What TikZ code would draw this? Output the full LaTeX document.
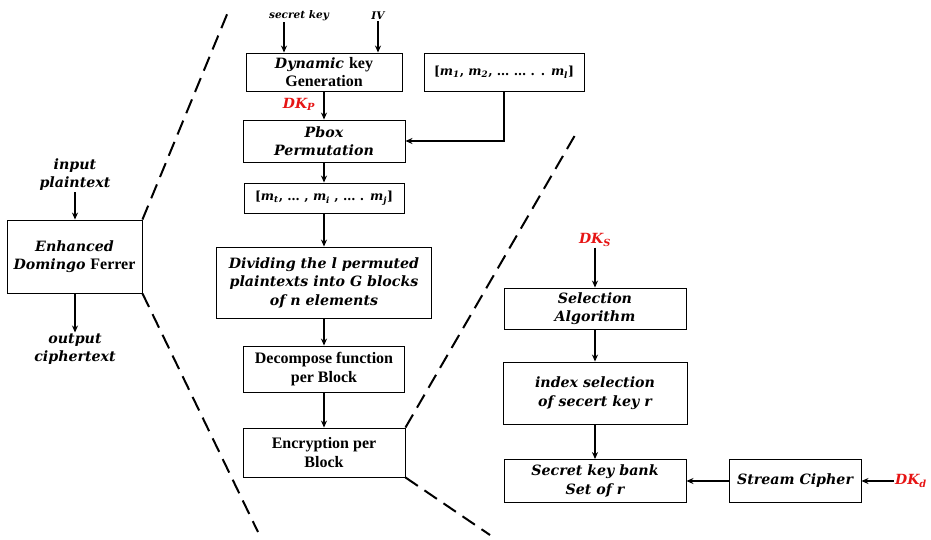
\documentclass[tikz,border=0pt]{standalone}
\usepackage{fontspec}
\setmainfont{DejaVu Serif}
\newfontfamily\uprm{Liberation Serif}
\usetikzlibrary{arrows.meta}
\definecolor{keyred}{RGB}{230,20,20}
\newcommand{\bi}[1]{\textbf{\textit{#1}}}
\newcommand{\sbi}[1]{\textsubscript{\bfseries\itshape #1}}
% upright bold words set in a narrower serif
\newcommand{\up}[1]{{\uprm\fontsize{16}{18.5}\selectfont\upshape #1}}
\begin{document}
\begin{tikzpicture}[x=1pt,y=-1pt,
  box/.style={draw, line width=0.9pt, rectangle, align=center, inner sep=2pt,
    font=\fontsize{14.2}{18.5}\selectfont\bfseries\itshape},
  listbox/.style={box, font=\fontsize{12.5}{15}\selectfont\bfseries},
  lbl/.style={align=center, inner sep=1pt, font=\fontsize{14.2}{18}\selectfont\bfseries\itshape},
  small/.style={inner sep=1pt, font=\fontsize{10.5}{12}\selectfont\bfseries\itshape},
  redkey/.style={inner sep=1pt, text=keyred, font=\fontsize{14}{16}\selectfont\bfseries\itshape},
  arr/.style={line width=1.2pt, -{Stealth[length=7pt,width=6pt]}},
  zoomline/.style={line width=2pt, dash pattern=on 15pt off 8pt}]
\useasboundingbox (0,0) rectangle (931,539);

% left overview block
\node[box, minimum width=135pt, minimum height=73pt] (edf) at (74.5,256.5)
  {Enhanced\\Domingo \up{Ferrer}};
\node[lbl] (inp) at (75,175) {input\\plaintext};
\node[lbl] (outp) at (75,349) {output\\ciphertext};

% middle column
\node[small] (sk) at (299,16) {secret key};
\node[small] (iv) at (378,16) {IV};
\node[box, minimum width=156pt, minimum height=38pt] (dkg) at (324,72)
  {Dynamic \up{key}\\\up{Generation}};
\node[listbox, minimum width=160pt, minimum height=38pt] (mbox) at (504,72)
  {[\bi{m}\sbi{1}, \bi{m}\sbi{2}, … … . . \bi{m}\sbi{l}]};
\node[redkey] (dkp) at (299,104) {DK\sbi{P}};
\node[box, minimum width=162pt, minimum height=42pt] (pbox) at (324,141)
  {Pbox\\Permutation};
\node[listbox, minimum width=160pt, minimum height=30pt] (mt) at (324,198)
  {[\bi{m}\sbi{t}, … , \bi{m}\sbi{i} , … . \bi{m}\sbi{j}]};
\node[box, minimum width=215pt, minimum height=71pt] (div) at (324,282.5)
  {Dividing the l permuted\\plaintexts into G blocks\\of n elements};
\node[box, minimum width=161pt, minimum height=46pt] (dec) at (324,369)
  {\up{Decompose function}\\\up{per Block}};
\node[box, minimum width=162pt, minimum height=49pt] (enc) at (324,452.5)
  {\up{Encryption per}\\\up{Block}};

% right column
\node[redkey] (dks) at (595,240) {DK\sbi{S}};
\node[box, minimum width=182pt, minimum height=41pt] (sel) at (595,308.5)
  {Selection\\Algorithm};
\node[box, minimum width=184pt, minimum height=62pt] (idx) at (595,393)
  {index selection\\of secert key r};
\node[box, minimum width=182pt, minimum height=43pt] (bank) at (595,481)
  {Secret key bank\\Set of r};
\node[box, minimum width=132pt, minimum height=43pt] (sc) at (795,481)
  {Stream Cipher};
\node[redkey] (dkd) at (911,481) {DK\sbi{d}};

% zoom-out dashed guides
\coordinate (zlt) at (228,12);
\coordinate (zlb) at (258,532);
\coordinate (zrt) at (578,130);
\coordinate (zrb) at (490,535);
\draw[zoomline] (edf.north east) -- (zlt);
\draw[zoomline] (edf.south east) -- (zlb);
\draw[zoomline] (enc.north east) -- (zrt);
\draw[zoomline] (enc.south east) -- (zrb);

% connectors
\coordinate (skx) at (284,0);
\draw[arr] (skx |- sk.south) -- (skx |- dkg.north);
\draw[arr] (inp.south) -- (inp.south |- edf.north);
\draw[arr] (outp.north |- edf.south) -- (outp.north);
\draw[arr] (iv.south) -- (iv.south |- dkg.north);
\draw[arr] (dkg.south) -- (pbox.north);
\draw[arr] (mbox.south) |- (pbox.east);
\draw[arr] (pbox.south) -- (mt.north);
\draw[arr] (mt.south) -- (div.north);
\draw[arr] (div.south) -- (dec.north);
\draw[arr, line width=1.7pt] (dec.south) -- (enc.north);
\draw[arr] (dks.south) -- (dks.south |- sel.north);
\draw[arr] (sel.south) -- (idx.north);
\draw[arr] (idx.south) -- (bank.north);
\draw[arr] (sc.west) -- (bank.east);
\draw[arr] (dkd.west) -- (dkd.west -| sc.east);
\end{tikzpicture}
\end{document}
